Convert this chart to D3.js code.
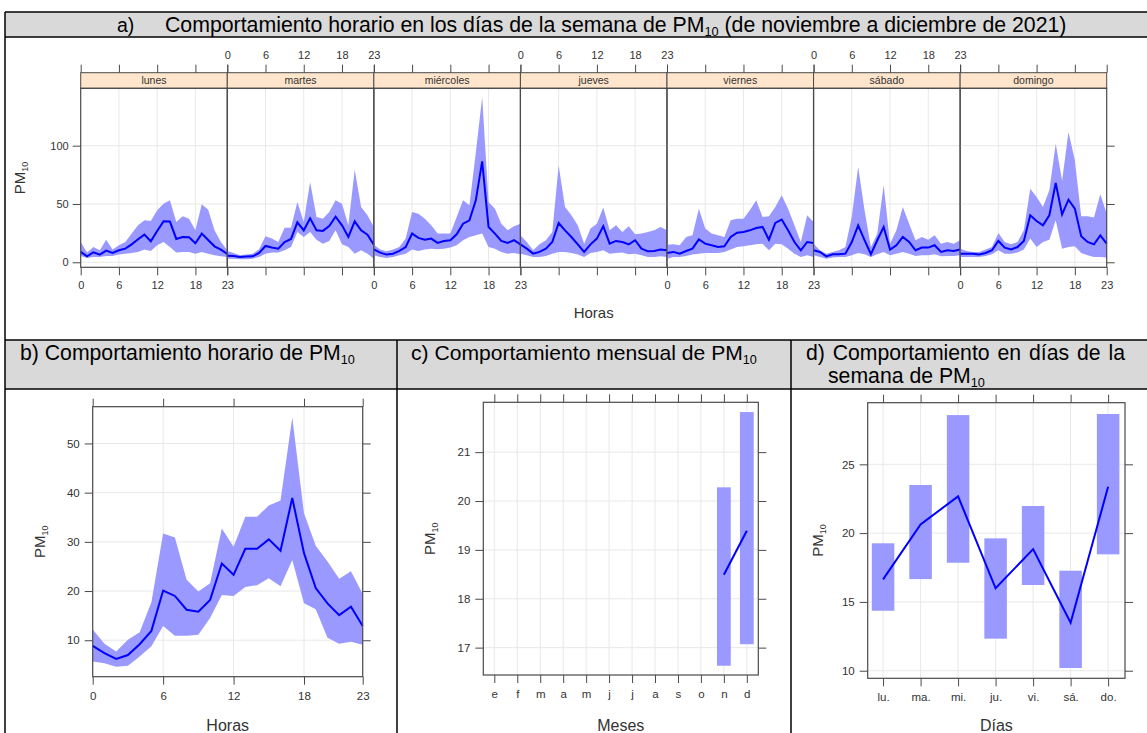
<!DOCTYPE html>
<html>
<head>
<meta charset="utf-8">
<script src="https://cdn.jsdelivr.net/npm/d3@7"></script>
<style>
body { margin:0; background:#fff; }
text { font-family: "Liberation Sans", Arial, sans-serif; }
</style>
</head>
<body>
<script>
// ---- data ----
var hours = [0,1,2,3,4,5,6,7,8,9,10,11,12,13,14,15,16,17,18,19,20,21,22,23];
var dayNames = ["lunes","martes","miércoles","jueves","viernes","sábado","domingo"];

// a) hourly by weekday (mean, lower, upper)
var weekMean = [
  [8.9,5.1,8.6,6.6,10,8,10.3,11.7,15.4,19.7,23.7,18,26.9,35.1,34.9,20,21.7,21.4,16.3,24.6,19.1,13.7,10.9,7.1],
  [5.7,5.4,4.6,4.9,5.1,8,14,12.6,11.7,17.4,20,34.3,27.4,37.7,27.4,26.9,31.1,39.1,31.7,21.7,35.1,27.4,23.7,15.1],
  [11,8.3,6.6,7.4,9.7,13,24.6,20.9,19.4,20.3,16.6,18.3,18.9,24,33.1,36,53.1,86.6,30.3,24.6,18.3,16.6,18.9,15.4],
  [15.4,11.7,7.4,8.9,11.7,17.4,33.7,27.4,21.7,15.4,8.9,15.4,20.3,30.9,16,18.3,17.4,15.4,18.9,11.7,9.4,9.7,10.9,10.3],
  [8,8.9,7.4,9.7,11.7,19.7,16,14.6,13.1,13.7,21.7,25.4,26,27.4,29.4,30.3,19.4,33.7,36.6,27.4,17.4,10.3,17.4,16.6],
  [10.3,8.9,5.1,6.9,6.9,7.4,17.4,31.7,19,6.9,18.9,30.3,10.9,14.6,21.7,17.4,10.3,12.6,12.6,14.6,8.9,10.3,9.7,10.9],
  [7.4,7.4,7.4,6.6,8,10.3,18.3,12.6,11.1,13.1,18.3,40.3,35.4,31.7,40.3,68,41.1,53.7,46,22.3,17.4,15.4,23.1,16]
];
var weekLower = [
  [5.4,3.7,4.6,4.6,5.4,5.4,6.6,7.4,8,8.9,10.9,9.7,14.6,17.4,13.1,8.3,8.9,8.9,7.4,8.9,7.4,6,5.1,4.6],
  [3.1,3.1,2.6,2.6,3.1,4.6,7.4,8.3,8.3,10.3,13.1,26,21.7,26,19.4,16,18.3,27.4,15.4,13.1,7.4,10.3,7.4,3.1],
  [6,4.6,3.7,4.6,6,7.4,10.9,9.7,10.9,11.7,11.1,11.7,12.6,14.6,18.9,21.7,23.1,24.6,13.1,11.7,8.9,7.4,8,6.9],
  [7.4,6,4.6,4.6,5.4,7.4,8.9,8.9,8,6.6,4.6,8,8.9,10.3,7.4,8,8.3,6.9,7.4,6,4.6,4.6,5.1,4.6],
  [3.1,4.6,4.6,5.4,6.6,7.4,8,8,8,8.9,10.9,13.1,13.7,14.6,15.4,16,10.3,16,15.4,11.7,7.4,4.6,6,4.6],
  [6,4.6,3.1,4,4.6,4.6,6,8,6.9,4.6,6.9,8.9,6,7.4,8.9,7.4,5.4,6,6,6.9,5.1,5.4,5.4,6],
  [4.6,4.6,4.6,4.6,5.4,6.9,10.3,7.4,7.4,8.3,10.9,20.3,13.1,17.4,19.4,36,11.7,13.1,13.7,8,6,4.6,4.6,4]
];
var weekUpper = [
  [17.4,8.3,13.1,10.3,19.4,10.9,14.6,17.4,24.6,31.7,36,35.4,44.6,50.3,53.1,34.6,39.4,37.4,27.4,49.7,45.1,27.4,17.4,10.3],
  [9.7,8,6,6.6,7.4,11.1,22.3,20.3,17.4,29.7,29.7,51.7,34.6,68.9,38.9,37.4,43.1,53.1,50.3,31.7,79.4,47.4,40.3,30.3],
  [15,10.9,9.4,10.9,13.1,20.3,43.1,41.7,37.4,31.7,24.6,24.6,24.6,38.9,53.1,48.9,94,141.7,51.7,46,33.1,27.4,30.9,33.1],
  [23.1,17.4,10.3,15.4,18.9,26,83.1,47.4,40.3,31.7,16,28.9,33.1,46.9,27.4,31.7,26,30.9,24,24.6,26,27.4,30.3,27.4],
  [15.1,15.4,14.6,21.7,23.1,46,28.9,24.6,23.1,21.7,36,37.4,37.4,44.6,53.1,38.9,39.4,47.4,57.4,46,31.7,17.4,40.3,34.6],
  [16,10.3,7.4,8.9,10.3,13.1,39,81.7,44.6,13,24.6,66,16,27.4,47.4,33.1,18.9,21.7,19.4,23.1,16,17.4,16,18.9],
  [11.7,9.7,8.9,8.9,10.9,13.1,25.1,17.4,15.4,17.4,27.4,63.1,56,47.4,61.7,101.7,70,111.7,87.4,39.4,39.4,38.3,58.3,41.7]
];

// b) hourly
var hourMean  = [8.85,7.4,6.2,7.0,9.2,11.9,20.1,19.0,16.2,15.8,18.2,25.6,23.3,28.6,28.6,30.5,28.2,38.9,27.7,20.6,17.5,15.1,16.8,12.9];
var hourLower = [5.7,5.3,4.6,4.8,6.7,8.8,12.9,10.9,10.9,11.1,14.5,19.2,19.0,20.8,21.2,22.6,21.0,26.3,17.5,16.3,10.5,9.3,9.7,9.1];
var hourUpper = [12.2,9.3,7.7,10.1,11.6,17.7,31.7,30.9,22.3,19.9,21.6,32.7,29.0,35.1,35.1,37.4,38.4,55.3,35.8,29.2,26.0,22.5,24.0,19.4];

// c) monthly
var monthLabels = ["e","f","m","a","m","j","j","a","s","o","n","d"];
var monthNum   = [11,12];
var monthMean  = [18.49,19.39];
var monthLower = [16.63,17.07];
var monthUpper = [20.28,21.82];

// d) weekday
var wdLabels = ["lu.","ma.","mi.","ju.","vi.","sá.","do."];
var wdMean  = [16.64,20.64,22.67,15.99,18.84,13.49,23.37];
var wdLower = [14.36,16.66,17.85,12.33,16.23,10.2,18.46];
var wdUpper = [19.26,23.5,28.58,19.62,21.97,17.27,28.66];

// ---- drawing ----
var W = 1147, H = 733;
var FONT = "'Liberation Sans', Arial, sans-serif";
var bandCol = "#9999ff", lineCol = "#0000ff", boxCol = "#4a4a4a", gridCol = "#e8e8e8", labCol = "#333";

var svg = d3.select("body").append("svg").attr("width", W).attr("height", H);

function pm(sel, before, after, fs) {
    sel.append("tspan").text(before + "PM");
    sel.append("tspan").attr("font-size", fs * 0.6).attr("dy", fs * 0.2).text("10");
    if (after) sel.append("tspan").attr("font-size", fs).attr("dy", -fs * 0.2).text(after);
}

function fitWidth(t, target) {
    var fs = parseFloat(t.attr("font-size"));
    var w = t.node().getComputedTextLength();
    t.attr("font-size", fs * target / w);
    t.selectAll("tspan").each(function() {
        var s = d3.select(this);
        if (s.attr("font-size")) s.attr("font-size", parseFloat(s.attr("font-size")) * target / w);
        if (s.attr("dy")) s.attr("dy", parseFloat(s.attr("dy")) * target / w);
    });
}

// table frame
svg.append("rect").attr("x", 5).attr("y", 12).attr("width", W - 5).attr("height", 25).attr("fill", "#d9d9d9");
svg.append("rect").attr("x", 5).attr("y", 340).attr("width", W - 5).attr("height", 49).attr("fill", "#d9d9d9");
var frame = [[5,12,W,12],[5,37,W,37],[5,12,5,H],[5,340,W,340],[5,389,W,389],[397,340,397,H],[791,340,791,H]];
svg.selectAll("line.frame").data(frame).enter().append("line").attr("class","frame")
    .attr("x1", function(d){return d[0];}).attr("y1", function(d){return d[1];})
    .attr("x2", function(d){return d[2];}).attr("y2", function(d){return d[3];})
    .attr("stroke", "#000").attr("stroke-width", 1.5);

// titles
var TFS = 19.5;
svg.append("text").attr("x", 117).attr("y", 32).attr("font-size", TFS).text("a)");
var ta = svg.append("text").attr("x", 165).attr("y", 32).attr("font-size", TFS);
pm(ta, "Comportamiento horario en los días de la semana de ", " (de noviembre a diciembre de 2021)", TFS);
fitWidth(ta, 902);

var tb = svg.append("text").attr("x", 20).attr("y", 360).attr("font-size", TFS);
pm(tb, "b) Comportamiento horario de ", "", TFS);
fitWidth(tb, 335);
var tc = svg.append("text").attr("x", 411).attr("y", 360).attr("font-size", TFS);
pm(tc, "c) Comportamiento mensual de ", "", TFS);
fitWidth(tc, 346);

// d title, justified first line
var dWords = ["d)", "Comportamiento", "en", "días", "de", "la"];
var fsD = parseFloat(tb.attr("font-size"));
var wNodes = dWords.map(function(w) {
    return svg.append("text").attr("y", 360).attr("font-size", fsD).text(w);
});
var wsum = d3.sum(wNodes, function(n){ return n.node().getComputedTextLength(); });
var gap = (1125 - 806 - wsum) / (dWords.length - 1);
var cx = 806;
wNodes.forEach(function(n) { n.attr("x", cx); cx += n.node().getComputedTextLength() + gap; });
var td2 = svg.append("text").attr("x", 828).attr("y", 383).attr("font-size", fsD);
pm(td2, "semana de ", "", fsD);

function styleAxis(g, fs) {
    g.select(".domain").remove();
    g.selectAll(".tick line").attr("stroke", boxCol);
    g.selectAll(".tick text").attr("fill", labCol).attr("font-size", fs).attr("font-family", FONT);
}

// ---- a) weekday panels ----
var aLeft = 80.7, aRight = 1106.7, aTop = 88.3, aBot = 267.3, stripTop = 72.7;
var pw = (aRight - aLeft) / 7;
var yA = d3.scaleLinear().domain([-4.3, 149.2]).range([aBot, aTop]);
var gA = svg.append("g");

dayNames.forEach(function(name, i) {
    var x = d3.scaleLinear().domain([0, 23]).range([aLeft + i * pw, aLeft + (i + 1) * pw]);
    var g = gA.append("g");
    g.selectAll("line.gv").data([6, 12, 18]).enter().append("line")
        .attr("x1", x).attr("x2", x).attr("y1", aTop).attr("y2", aBot)
        .attr("stroke", gridCol);
    g.selectAll("line.gh").data([0, 50, 100]).enter().append("line")
        .attr("x1", x(0)).attr("x2", x(23)).attr("y1", yA).attr("y2", yA)
        .attr("stroke", gridCol);
    var area = d3.area().x(function(d, j){ return x(hours[j]); })
        .y0(function(d, j){ return yA(weekLower[i][j]); })
        .y1(function(d, j){ return yA(weekUpper[i][j]); });
    g.append("path").attr("d", area(hours)).attr("fill", bandCol);
    var line = d3.line().x(function(d, j){ return x(hours[j]); }).y(function(d){ return yA(d); });
    g.append("path").attr("d", line(weekMean[i])).attr("fill", "none")
        .attr("stroke", lineCol).attr("stroke-width", 2);
    // strip
    g.append("rect").attr("x", x(0)).attr("y", stripTop).attr("width", pw).attr("height", aTop - stripTop)
        .attr("fill", "#ffe5cc").attr("stroke", boxCol);
    g.append("text").attr("x", x(11.5)).attr("y", stripTop + 11.5).attr("text-anchor", "middle")
        .attr("font-size", 10.5).attr("fill", labCol).text(name);
    g.append("rect").attr("x", x(0)).attr("y", aTop).attr("width", pw).attr("height", aBot - aTop)
        .attr("fill", "none").attr("stroke", boxCol).attr("stroke-width", 1.2);
    var ab = g.append("g").attr("transform", "translate(0," + aBot + ")")
        .call(d3.axisBottom(x).tickValues([0, 6, 12, 18, 23]).tickSize(8).tickPadding(6)
            .tickFormat(i % 2 == 0 ? d3.format("d") : ""));
    styleAxis(ab, 11);
    var at = g.append("g").attr("transform", "translate(0," + stripTop + ")")
        .call(d3.axisTop(x).tickValues([0, 6, 12, 18, 23]).tickSize(8).tickPadding(6)
            .tickFormat(i % 2 == 1 ? d3.format("d") : ""));
    styleAxis(at, 11);
});
var ayl = gA.append("g").attr("transform", "translate(" + aLeft + ",0)")
    .call(d3.axisLeft(yA).tickValues([0, 50, 100]).tickSize(8).tickPadding(4));
styleAxis(ayl, 11);
var ayr = gA.append("g").attr("transform", "translate(" + aRight + ",0)")
    .call(d3.axisRight(yA).tickValues([0, 50, 100]).tickSize(8).tickFormat(""));
styleAxis(ayr, 11);
gA.append("text").attr("x", (aLeft + aRight) / 2).attr("y", 318).attr("text-anchor", "middle")
    .attr("font-size", 15).attr("fill", labCol).text("Horas");
var pa = gA.append("text").attr("transform", "translate(25,178) rotate(-90)").attr("text-anchor", "middle")
    .attr("font-size", 15).attr("fill", labCol);
pm(pa, "", "", 15);

// generic lattice box for b, c, d
function latticeBox(x, y, xt, xfmt, yt, xlab, ylabX) {
    var g = svg.append("g");
    var xr = x.range(), yr = y.range();
    g.selectAll("line.gv").data(xt).enter().append("line")
        .attr("x1", x).attr("x2", x).attr("y1", yr[1]).attr("y2", yr[0]).attr("stroke", gridCol);
    g.selectAll("line.gh").data(yt).enter().append("line")
        .attr("x1", xr[0]).attr("x2", xr[1]).attr("y1", y).attr("y2", y).attr("stroke", gridCol);
    var top = g.append("g").attr("transform", "translate(0," + yr[1] + ")")
        .call(d3.axisTop(x).tickValues(xt).tickSize(8).tickFormat(""));
    styleAxis(top, 11);
    var bot = g.append("g").attr("transform", "translate(0," + yr[0] + ")")
        .call(d3.axisBottom(x).tickValues(xt).tickSize(8).tickPadding(7).tickFormat(xfmt));
    styleAxis(bot, 11.5);
    var lft = g.append("g").attr("transform", "translate(" + xr[0] + ",0)")
        .call(d3.axisLeft(y).tickValues(yt).tickSize(8).tickPadding(5).tickFormat(d3.format("d")));
    styleAxis(lft, 11.5);
    var rgt = g.append("g").attr("transform", "translate(" + xr[1] + ",0)")
        .call(d3.axisRight(y).tickValues(yt).tickSize(8).tickFormat(""));
    styleAxis(rgt, 11.5);
    g.append("text").attr("x", (xr[0] + xr[1]) / 2).attr("y", 731).attr("text-anchor", "middle")
        .attr("font-size", 16).attr("fill", labCol).text(xlab);
    var p = g.append("text").attr("transform", "translate(" + ylabX + "," + ((yr[0] + yr[1]) / 2) + ") rotate(-90)")
        .attr("text-anchor", "middle").attr("font-size", 15).attr("fill", labCol);
    pm(p, "", "", 15);
    return g;
}
function boxOutline(g, x, y) {
    var xr = x.range(), yr = y.range();
    g.append("rect").attr("x", xr[0]).attr("y", yr[1]).attr("width", xr[1] - xr[0]).attr("height", yr[0] - yr[1])
        .attr("fill", "none").attr("stroke", boxCol).attr("stroke-width", 1.2);
}

// ---- b) hourly ----
var xB = d3.scaleLinear().domain([0, 23]).range([92.7, 362.7]);
var yB = d3.scaleLinear().domain([2.59, 57.47]).range([676.7, 406.7]);
var gB = latticeBox(xB, yB, [0, 6, 12, 18, 23], d3.format("d"), [10, 20, 30, 40, 50], "Horas", 45);
gB.append("path").attr("fill", bandCol)
    .attr("d", d3.area().x(function(d){ return xB(d); })
        .y0(function(d, j){ return yB(hourLower[j]); })
        .y1(function(d, j){ return yB(hourUpper[j]); })(hours));
gB.append("path").attr("fill", "none").attr("stroke", lineCol).attr("stroke-width", 2)
    .attr("d", d3.line().x(function(d, j){ return xB(hours[j]); }).y(function(d){ return yB(d); })(hourMean));
boxOutline(gB, xB, yB);

// ---- c) monthly ----
var xC = d3.scaleLinear().domain([0.52, 12.5]).range([483.3, 758.3]);
var yC = d3.scaleLinear().domain([16.44, 22.02]).range([675, 402.3]);
var gC = latticeBox(xC, yC, [1,2,3,4,5,6,7,8,9,10,11,12], function(d){ return monthLabels[d - 1]; },
    [17, 18, 19, 20, 21], "Meses", 435);
gC.selectAll("rect.bar").data(monthNum).enter().append("rect")
    .attr("x", function(d){ return xC(d - 0.3); })
    .attr("width", xC(0.6) - xC(0))
    .attr("y", function(d, j){ return yC(monthUpper[j]); })
    .attr("height", function(d, j){ return yC(monthLower[j]) - yC(monthUpper[j]); })
    .attr("fill", bandCol);
gC.append("path").attr("fill", "none").attr("stroke", lineCol).attr("stroke-width", 2)
    .attr("d", d3.line().x(function(d, j){ return xC(monthNum[j]); }).y(function(d){ return yC(d); })(monthMean));
boxOutline(gC, xC, yC);

// ---- d) weekday ----
var wdNum = [1, 2, 3, 4, 5, 6, 7];
var xD = d3.scaleLinear().domain([0.59, 7.45]).range([867.7, 1125]);
var yD = d3.scaleLinear().domain([9.45, 29.48]).range([678.3, 402.7]);
var gD = latticeBox(xD, yD, wdNum, function(d){ return wdLabels[d - 1]; }, [10, 15, 20, 25], "Días", 823);
gD.selectAll("rect.bar").data(wdNum).enter().append("rect")
    .attr("x", function(d){ return xD(d - 0.3); })
    .attr("width", xD(0.6) - xD(0))
    .attr("y", function(d, j){ return yD(wdUpper[j]); })
    .attr("height", function(d, j){ return yD(wdLower[j]) - yD(wdUpper[j]); })
    .attr("fill", bandCol);
gD.append("path").attr("fill", "none").attr("stroke", lineCol).attr("stroke-width", 2)
    .attr("d", d3.line().x(function(d, j){ return xD(wdNum[j]); }).y(function(d){ return yD(d); })(wdMean));
boxOutline(gD, xD, yD);
</script>
</body>
</html>
